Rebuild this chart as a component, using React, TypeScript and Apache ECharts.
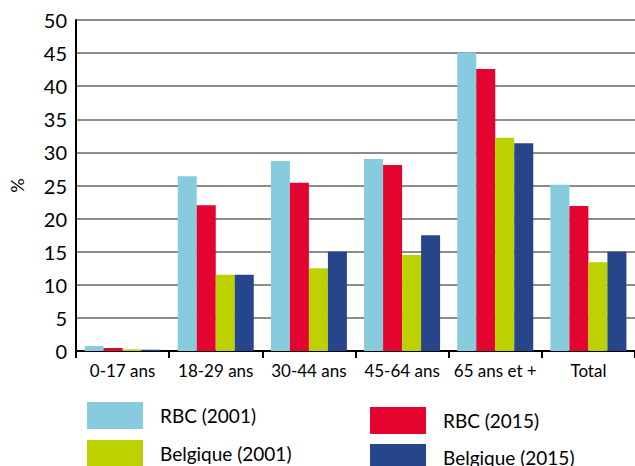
import React, { useEffect, useRef } from "react";
import * as echarts from "echarts";

const categories = ["0-17 ans", "18-29 ans", "30-44 ans", "45-64 ans", "65 ans et +", "Total"];
const seriesNames = ["RBC (2001)", "RBC (2015)", "Belgique (2001)", "Belgique (2015)"];
const rbc2001 = [0.75, 26.4, 28.7, 29.0, 45.1, 25.1];
const rbc2015 = [0.45, 22.0, 25.4, 28.1, 42.6, 21.9];
const bel2001 = [0.25, 11.5, 12.5, 14.5, 32.2, 13.4];
const bel2015 = [0.2, 11.5, 15.0, 17.5, 31.4, 15.0];
const colors = ["#87CCDE", "#E30530", "#BDD000", "#27458A"];
const yTicks = [0, 5, 10, 15, 20, 25, 30, 35, 40, 45, 50];

const FONT = "Lato";

export default function App() {
  const ref = useRef<HTMLDivElement>(null);
  useEffect(() => {
    document.body.style.margin = "0";
    if (!ref.current) return;
    const chart = echarts.init(ref.current, undefined, { renderer: "svg" });
    const values = [rbc2001, rbc2015, bel2001, bel2015];
    const legendPos = [
      { left: 87, top: 402 },
      { left: 370, top: 407 },
      { left: 87, top: 440 },
      { left: 370, top: 444 },
    ];
    chart.setOption({
      animation: false,
      textStyle: { fontFamily: FONT },
      grid: { left: 70, right: 0, top: 20, bottom: 115, containLabel: false },
      legend: seriesNames.map((n, i) => ({
        data: [n],
        left: legendPos[i].left,
        top: legendPos[i].top,
        itemWidth: 56,
        itemHeight: 27,
        icon: "rect",
        padding: 0,
        textStyle: { fontFamily: FONT, fontSize: 19, color: "#000", padding: [0, 0, 0, 12] },
      })),
      xAxis: {
        type: "category",
        data: categories,
        axisLine: { lineStyle: { color: "#000", width: 2 } },
        axisTick: { show: true, alignWithLabel: false, length: 7, lineStyle: { color: "#000", width: 2 } },
        axisLabel: { fontFamily: FONT, fontSize: 17, color: "#000", margin: 11, interval: 0 },
      },
      yAxis: {
        type: "value",
        min: yTicks[0],
        max: yTicks[yTicks.length - 1],
        interval: 5,
        name: "%",
        nameLocation: "middle",
        nameRotate: 90,
        nameGap: 50,
        nameTextStyle: { fontFamily: FONT, fontSize: 18, color: "#000" },
        axisLine: { show: true, lineStyle: { color: "#000", width: 2 } },
        axisTick: { show: false },
        axisLabel: { fontFamily: FONT, fontSize: 20, color: "#000", margin: 9 },
        splitLine: { lineStyle: { color: "#8c8c8c", width: 2 } },
      },
      series: seriesNames.map((n, i) => ({
        name: n,
        type: "bar",
        data: values[i],
        barWidth: 19,
        barGap: "0%",
        itemStyle: { color: colors[i] },
      })),
    });
    return () => chart.dispose();
  }, []);
  return <div ref={ref} style={{ width: 635, height: 466 }} />;
}
